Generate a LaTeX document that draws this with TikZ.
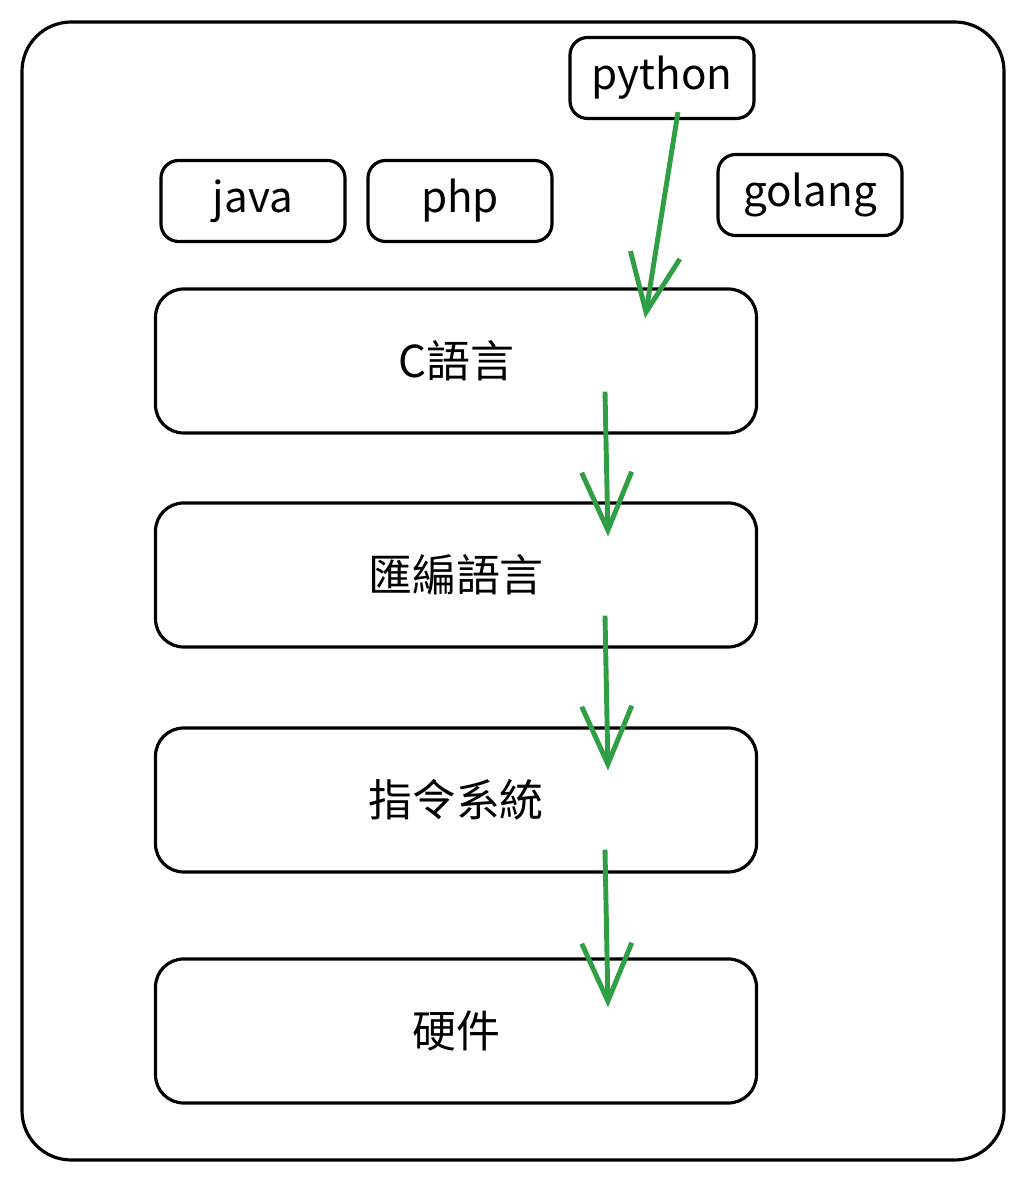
\documentclass[tikz,border=0pt]{standalone}
\usepackage{fontspec}
\setmainfont{Noto Sans CJK TC}
\usepackage{tikz}
\usetikzlibrary{arrows.meta,positioning}
\definecolor{arrgreen}{RGB}{47,158,68}

\begin{document}
\begin{tikzpicture}[
    frame/.style={draw, line width=0.9pt, rounded corners=14pt,
                  minimum width=9.82cm, minimum height=11.38cm},
    lang/.style={draw, line width=0.9pt, rounded corners=5pt,
                 minimum width=1.84cm, minimum height=0.81cm,
                 font=\fontsize{12}{14}\selectfont},
    layer/.style={draw, line width=0.9pt, rounded corners=8pt,
                  minimum width=6.01cm, minimum height=1.44cm,
                  font=\fontsize{12.5}{15}\selectfont},
    arr/.style={-{Straight Barb[length=0.58cm,width=0.5cm]},
                line width=1.4pt, draw=arrgreen},
  ]
  \useasboundingbox (0,0) rectangle (10.24,11.80);

  % Outer frame
  \node[frame] (frame) at (5.13,5.89) {};

  % Languages
  \node[lang] (python) at (6.62,11.02) {python};
  \node[lang] (java) at (2.53,9.79) {java};
  \node[lang] (php) at (4.60,9.79) {php};
  \node[lang] (golang) at (8.10,9.85) {golang};

  % Layers
  \node[layer] (clang) at (4.56,8.19) {C語言};
  \node[layer] (asm) at (4.56,6.05) {匯編語言};
  \node[layer] (inst) at (4.56,3.80) {指令系統};
  \node[layer] (hw) at (4.56,1.49) {硬件};

  \draw[arr] ([xshift=0.16cm,yshift=0.08cm]python.south) -- ([xshift=1.89cm,yshift=-0.31cm]clang.north);
  \draw[arr] ([xshift=1.49cm,yshift=0.43cm]clang.south) -- ([xshift=1.52cm,yshift=-0.35cm]asm.north);
  \draw[arr] ([xshift=1.49cm,yshift=0.33cm]asm.south) -- ([xshift=1.52cm,yshift=-0.44cm]inst.north);
  \draw[arr] ([xshift=1.49cm,yshift=0.24cm]inst.south) -- ([xshift=1.52cm,yshift=-0.50cm]hw.north);

\end{tikzpicture}
\end{document}
